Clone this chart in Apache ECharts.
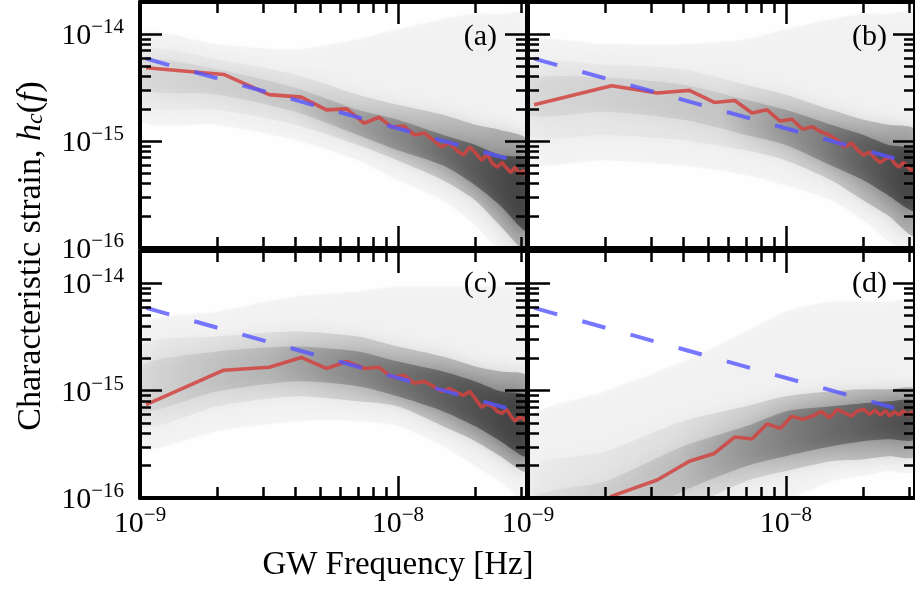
<!DOCTYPE html>
<html><head><meta charset="utf-8">
<script src="https://cdn.jsdelivr.net/npm/echarts@6/dist/echarts.min.js"></script>
<style>html,body{margin:0;padding:0;background:#fff}#c{width:915px;height:590px}</style>
</head><body><div id="c"></div>
<script>
// ---------------- data ----------------
const freqs = [1.056e-9, 2.112e-9, 3.169e-9, 4.225e-9, 5.281e-9, 6.337e-9, 7.393e-9, 8.450e-9, 9.506e-9, 1.0562e-8,
  1.1618e-8, 1.2674e-8, 1.3731e-8, 1.4787e-8, 1.5843e-8, 1.6899e-8, 1.7955e-8, 1.9012e-8, 2.0068e-8, 2.1124e-8,
  2.2180e-8, 2.3236e-8, 2.4293e-8, 2.5349e-8, 2.6405e-8, 2.7461e-8, 2.8517e-8, 2.9574e-8, 3.0630e-8, 3.1686e-8];

const redA = [4.85e-15, 4.2e-15, 2.72e-15, 2.58e-15, 1.96e-15, 2.0e-15, 1.47e-15, 1.67e-15, 1.35e-15, 1.38e-15,
  1.14e-15, 1.19e-15, 1.02e-15, 8.8e-16, 9.6e-16, 8.2e-16, 7.4e-16, 8.8e-16, 7.7e-16, 6.6e-16,
  7.5e-16, 6.2e-16, 5.7e-16, 6.3e-16, 5.6e-16, 5.1e-16, 5.7e-16, 4.9e-16, 5.3e-16, 4.6e-16];
const redB = [2.19e-15, 3.3e-15, 2.82e-15, 2.98e-15, 2.3e-15, 2.4e-15, 1.83e-15, 1.96e-15, 1.54e-15, 1.6e-15,
  1.29e-15, 1.36e-15, 1.22e-15, 1.14e-15, 1.02e-15, 8.8e-16, 9.6e-16, 8.2e-16, 7.4e-16, 7.9e-16,
  6.9e-16, 6.3e-16, 6.8e-16, 7.1e-16, 6.2e-16, 5.7e-16, 6.3e-16, 5.8e-16, 5.3e-16, 5.6e-16];
const redC = [7.4e-16, 1.55e-15, 1.65e-15, 2.04e-15, 1.61e-15, 1.87e-15, 1.61e-15, 1.65e-15, 1.33e-15, 1.39e-15,
  1.17e-15, 1.22e-15, 1.10e-15, 9.85e-16, 1.05e-15, 9.65e-16, 9.04e-16, 9.85e-16, 8.3e-16, 7.0e-16,
  7.5e-16, 7.15e-16, 6.4e-16, 6.15e-16, 6.7e-16, 5.8e-16, 5.2e-16, 5.65e-16, 5.5e-16, 5.07e-16];
const redD = [3.6e-17, 1.04e-16, 1.47e-16, 2.2e-16, 2.6e-16, 3.7e-16, 3.55e-16, 4.9e-16, 4.45e-16, 5.76e-16,
  5.4e-16, 5.8e-16, 6.4e-16, 5.6e-16, 6.7e-16, 6.2e-16, 5.8e-16, 6.5e-16, 6.7e-16, 6.0e-16,
  6.6e-16, 5.9e-16, 6.5e-16, 5.8e-16, 6.4e-16, 5.9e-16, 6.5e-16, 5.9e-16, 6.3e-16, 6.0e-16];

// power-law reference (dashed)
const powerLawF = [1.056e-9, 3.17e-8];
const powerLawH = [5.9e-15, 6.1e-16];

// envelope of the grey realisation cloud
const bandF = [1e-9, 2e-9, 4e-9, 7e-9, 1e-8, 1.5e-8, 2e-8, 2.5e-8, 3.17e-8];
const aOuterHi = [1.0e-14, 8.05e-15, 7.22e-15, 8.97e-15, 1.11e-14, 1.39e-14, 1.545e-14, 1.545e-14, 1.545e-14];
const aOuterLo = [1.58e-15, 1.42e-15, 1.02e-15, 6.6e-16, 4.3e-16, 2.78e-16, 1.61e-16, 9.4e-17, 7.5e-17];
const aMidHi = [7.22e-15, 5.81e-15, 4.2e-15, 2.72e-15, 2.19e-15, 1.76e-15, 1.42e-15, 1.27e-15, 1.02e-15];
const aMidLo = [2.19e-15, 1.96e-15, 1.42e-15, 9.2e-16, 6.6e-16, 4.3e-16, 2.78e-16, 1.61e-16, 9.4e-17];
const aInnerHi = [5.81e-15, 4.68e-15, 3.16e-15, 1.96e-15, 1.58e-15, 1.14e-15, 9.2e-16, 7.4e-16, 6.6e-16];
const aInnerLo = [3.03e-15, 2.72e-15, 1.88e-15, 1.14e-15, 8.2e-16, 5.9e-16, 3.85e-16, 2.49e-16, 1.45e-16];

const bOuterHi = [8.05e-15, 8.05e-15, 8.05e-15, 8.97e-15, 1.11e-14, 1.39e-14, 1.545e-14, 1.545e-14, 1.545e-14];
const bOuterLo = [6.6e-16, 6.6e-16, 5.9e-16, 4.8e-16, 3.85e-16, 2.78e-16, 1.8e-16, 1.16e-16, 8.4e-17];
const bMidHi = [5.21e-15, 5.21e-15, 4.68e-15, 3.37e-15, 2.72e-15, 1.96e-15, 1.58e-15, 1.42e-15, 1.27e-15];
const bMidLo = [1.14e-15, 1.14e-15, 1.02e-15, 8.2e-16, 6.6e-16, 4.3e-16, 2.78e-16, 2.0e-16, 1.3e-16];
const bInnerHi = [3.76e-15, 3.93e-15, 3.37e-15, 2.44e-15, 1.96e-15, 1.42e-15, 1.14e-15, 9.2e-16, 8.2e-16];
const bInnerLo = [1.76e-15, 1.88e-15, 1.58e-15, 1.14e-15, 9.2e-16, 5.9e-16, 4.3e-16, 3.1e-16, 2.24e-16];

const cOuterHi = [3.96e-15, 5.47e-15, 7.54e-15, 8.39e-15, 9.33e-15, 9.33e-15, 9.33e-15, 9.33e-15, 8.39e-15];
const cOuterLo = [3.03e-16, 4.18e-16, 5.18e-16, 5.18e-16, 4.65e-16, 3.03e-16, 1.98e-16, 1.43e-16, 9.3e-17];
const cMidHi = [2.58e-15, 3.2e-15, 3.56e-15, 3.2e-15, 2.58e-15, 2.08e-15, 1.68e-15, 1.51e-15, 1.36e-15];
const cMidLo = [4.65e-16, 7.14e-16, 8.85e-16, 7.95e-16, 7.14e-16, 4.65e-16, 3.38e-16, 2.45e-16, 1.78e-16];
const cInnerHi = [1.68e-15, 2.32e-15, 2.58e-15, 2.32e-15, 1.87e-15, 1.51e-15, 1.22e-15, 9.85e-16, 8.85e-16];
const cInnerLo = [6.41e-16, 9.85e-16, 1.22e-15, 1.10e-15, 8.85e-16, 6.41e-16, 4.65e-16, 3.38e-16, 2.45e-16];

const dOuterHi = [5.18e-16, 9.85e-16, 1.87e-15, 3.56e-15, 5.47e-15, 6.78e-15, 6.78e-15, 6.78e-15, 6.78e-15];
const dOuterLo = [1.1e-17, 1.1e-17, 2.58e-17, 6.1e-17, 9.3e-17, 1.43e-16, 1.6e-16, 1.78e-16, 1.78e-16];
const dMidHi = [1.78e-16, 2.72e-16, 5.18e-16, 7.14e-16, 8.85e-16, 9.85e-16, 1.03e-15, 1.03e-15, 1.03e-15];
const dMidLo = [1.1e-17, 2.58e-17, 7.5e-17, 1.43e-16, 1.78e-16, 2.2e-16, 2.3e-16, 2.45e-16, 2.45e-16];
const dInnerHi = [9.3e-17, 1.43e-16, 3.03e-16, 4.65e-16, 6.41e-16, 7.14e-16, 7.62e-16, 7.95e-16, 7.95e-16];
const dInnerLo = [1.1e-17, 4.9e-17, 1.16e-16, 1.98e-16, 2.45e-16, 3.03e-16, 3.38e-16, 3.52e-16, 3.52e-16];

// ticks
const xMajorTicks = [1e-9, 1e-8];
const xMinorTicks = [2e-9, 3e-9, 4e-9, 5e-9, 6e-9, 7e-9, 8e-9, 9e-9, 2e-8, 3e-8];
const yMajorTicks = [1e-16, 1e-15, 1e-14];
const yMinorTicks = [2e-16, 3e-16, 4e-16, 5e-16, 6e-16, 7e-16, 8e-16, 9e-16,
  2e-15, 3e-15, 4e-15, 5e-15, 6e-15, 7e-15, 8e-15, 9e-15];
const panelLabels = ['(a)', '(b)', '(c)', '(d)'];
const xTitle = 'GW Frequency [Hz]';

// ---------------- build ----------------
const XMIN = 1e-9, XMAX = 3.17e-8, YMIN = 1e-16, YMAX = 2e-14;
const FONT = '"Liberation Serif", "Times New Roman", serif';
const grids = [
  {left: 140, top: 2, width: 387, height: 246},
  {left: 528, top: 2, width: 389, height: 246},
  {left: 140, top: 251, width: 387, height: 247},
  {left: 528, top: 251, width: 389, height: 247}
];
const reds = [redA, redB, redC, redD];
const bands = [
  [aOuterHi, aOuterLo, aMidHi, aMidLo, aInnerHi, aInnerLo],
  [bOuterHi, bOuterLo, bMidHi, bMidLo, bInnerHi, bInnerLo],
  [cOuterHi, cOuterLo, cMidHi, cMidLo, cInnerHi, cInnerLo],
  [dOuterHi, dOuterLo, dMidHi, dMidLo, dInnerHi, dInnerLo]
];
// darkness profile along x (style)
const darkStops = [
  [[0, 0.05], [0.4, 0.09], [0.7, 0.26], [1, 0.5]],
  [[0, 0.05], [0.5, 0.09], [0.75, 0.26], [1, 0.5]],
  [[0, 0.05], [0.35, 0.13], [0.6, 0.26], [1, 0.5]],
  [[0, 0.03], [0.4, 0.11], [0.7, 0.28], [1, 0.45]]
];

function supLabel(v) {
  const e = Math.round(Math.log10(v));
  return '{b|10}{s|\u2212' + (-e) + '}';
}
const labelRich = {
  b: {fontFamily: FONT, fontSize: 30, color: '#000', lineHeight: 34, verticalAlign: 'bottom'},
  s: {fontFamily: FONT, fontSize: 21, color: '#000', lineHeight: 16, verticalAlign: 'top'}
};
const lineSt = {color: '#000', width: 4};
const tickSt = {color: '#000', width: 2.5};

const xAxes = [], yAxes = [];
for (let p = 0; p < 4; p++) {
  const bx = {type: 'log', gridIndex: p, min: XMIN, max: XMAX, splitLine: {show: false}, z: 10, axisPointer: {show: false}};
  const showX = p >= 2;
  xAxes.push(Object.assign({}, bx, {position: 'bottom', axisLine: {show: true, lineStyle: lineSt},
    axisTick: {show: true, inside: true, length: 22, customValues: xMajorTicks, lineStyle: tickSt},
    axisLabel: {show: showX, customValues: xMajorTicks, formatter: supLabel, rich: labelRich, margin: 7, hideOverlap: false}}));
  xAxes.push(Object.assign({}, bx, {position: 'bottom', axisLine: {show: false},
    axisTick: {show: true, inside: true, length: 11, customValues: xMinorTicks, lineStyle: tickSt}, axisLabel: {show: false}}));
  xAxes.push(Object.assign({}, bx, {position: 'top', axisLine: {show: true, lineStyle: lineSt},
    axisTick: {show: true, inside: true, length: 22, customValues: xMajorTicks, lineStyle: tickSt}, axisLabel: {show: false}}));
  xAxes.push(Object.assign({}, bx, {position: 'top', axisLine: {show: false},
    axisTick: {show: true, inside: true, length: 11, customValues: xMinorTicks, lineStyle: tickSt}, axisLabel: {show: false}}));

  const by = {type: 'log', gridIndex: p, min: YMIN, max: YMAX, splitLine: {show: false}, z: 10, axisPointer: {show: false}};
  const showY = (p % 2) === 0;
  yAxes.push(Object.assign({}, by, {position: 'left', axisLine: {show: true, lineStyle: lineSt},
    axisTick: {show: true, inside: true, length: 22, customValues: yMajorTicks, lineStyle: tickSt},
    axisLabel: {show: showY, customValues: yMajorTicks, formatter: supLabel, rich: labelRich, margin: 16, hideOverlap: false}}));
  yAxes.push(Object.assign({}, by, {position: 'left', axisLine: {show: false},
    axisTick: {show: true, inside: true, length: 11, customValues: yMinorTicks, lineStyle: tickSt}, axisLabel: {show: false}}));
  yAxes.push(Object.assign({}, by, {position: 'right', axisLine: {show: true, lineStyle: lineSt},
    axisTick: {show: true, inside: true, length: 22, customValues: yMajorTicks, lineStyle: tickSt}, axisLabel: {show: false}}));
  yAxes.push(Object.assign({}, by, {position: 'right', axisLine: {show: false},
    axisTick: {show: true, inside: true, length: 11, customValues: yMinorTicks, lineStyle: tickSt}, axisLabel: {show: false}}));
}

function gradient(stops, scale) {
  return new echarts.graphic.LinearGradient(0, 0, 1, 0,
    stops.map(s => ({offset: s[0], color: 'rgba(0,0,0,' + (s[1] * scale).toFixed(3) + ')'})));
}
function bandSeries(p, hi, lo, fillFn, blur, shadow) {
  return {
    type: 'custom', xAxisIndex: p * 4, yAxisIndex: p * 4, clip: true, silent: true, z: 1,
    data: [[bandF[0], hi[0]]],
    renderItem: function (params, api) {
      const pts = [];
      for (let j = 0; j < bandF.length; j++) pts.push(api.coord([bandF[j], hi[j]]));
      for (let j = bandF.length - 1; j >= 0; j--) pts.push(api.coord([bandF[j], lo[j]]));
      const cs = params.coordSys;
      return {
        type: 'group',
        clipPath: {type: 'rect', shape: {x: cs.x, y: cs.y, width: cs.width, height: cs.height}},
        children: [{type: 'polygon', shape: {points: pts, smooth: 0.25},
          style: {fill: fillFn(), shadowBlur: blur, shadowColor: shadow}}]
      };
    }
  };
}

const series = [];
for (let p = 0; p < 4; p++) {
  const b = bands[p];
  series.push(bandSeries(p, b[0], b[1], () => 'rgba(0,0,0,0.035)', 18, 'rgba(0,0,0,0.5)'));
  series.push(bandSeries(p, b[2], b[3], () => gradient(darkStops[p], 0.5), 16, 'rgba(0,0,0,0.6)'));
  series.push(bandSeries(p, b[4], b[5], () => gradient(darkStops[p], 0.9), 14, 'rgba(0,0,0,0.6)'));
  series.push({
    type: 'line', xAxisIndex: p * 4, yAxisIndex: p * 4, silent: true, z: 3,
    symbol: 'none', showSymbol: false, clip: true,
    data: freqs.map((f, i) => [f, reds[p][i]]),
    lineStyle: {color: '#d2433f', width: 3.6, opacity: 0.85}
  });
  series.push({
    type: 'line', xAxisIndex: p * 4, yAxisIndex: p * 4, silent: true, z: 4,
    symbol: 'none', showSymbol: false, clip: true,
    data: powerLawF.map((f, i) => [f, powerLawH[i]]),
    lineStyle: {color: '#5555ff', width: 4, opacity: 0.8, type: [24, 26]}
  });
}

const labelPos = [[497, 37], [887, 37], [497, 284], [887, 284]];
const graphics = panelLabels.map((t, i) => ({
  type: 'text', x: labelPos[i][0], y: labelPos[i][1], z: 20,
  style: {text: t, font: '30px ' + FONT, fill: '#000', textAlign: 'right', textVerticalAlign: 'middle'}
}));
graphics.push({
  type: 'text', x: 398, y: 565, z: 20,
  style: {text: xTitle, font: '33px ' + FONT, fill: '#000', textAlign: 'center', textVerticalAlign: 'middle'}
});
graphics.push({
  type: 'text', x: 28, y: 256, rotation: Math.PI / 2, z: 20,
  style: {
    text: '{n|Characteristic strain, }{i|h}{c|c}{n|(}{i|f}{n|)}',
    textAlign: 'center', textVerticalAlign: 'middle',
    rich: {
      n: {fontFamily: FONT, fontSize: 34, lineHeight: 40, color: '#000', verticalAlign: 'bottom'},
      i: {fontFamily: FONT, fontSize: 34, fontStyle: 'italic', lineHeight: 40, color: '#000', verticalAlign: 'bottom'},
      c: {fontFamily: FONT, fontSize: 24, fontStyle: 'italic', lineHeight: 22, color: '#000', verticalAlign: 'bottom'}
    }
  }
});

const chart = echarts.init(document.getElementById('c'), null, {renderer: 'canvas'});
chart.setOption({
  animation: false,
  backgroundColor: '#fff',
  grid: grids,
  xAxis: xAxes,
  yAxis: yAxes,
  series: series,
  graphic: graphics
});
</script></body></html>
